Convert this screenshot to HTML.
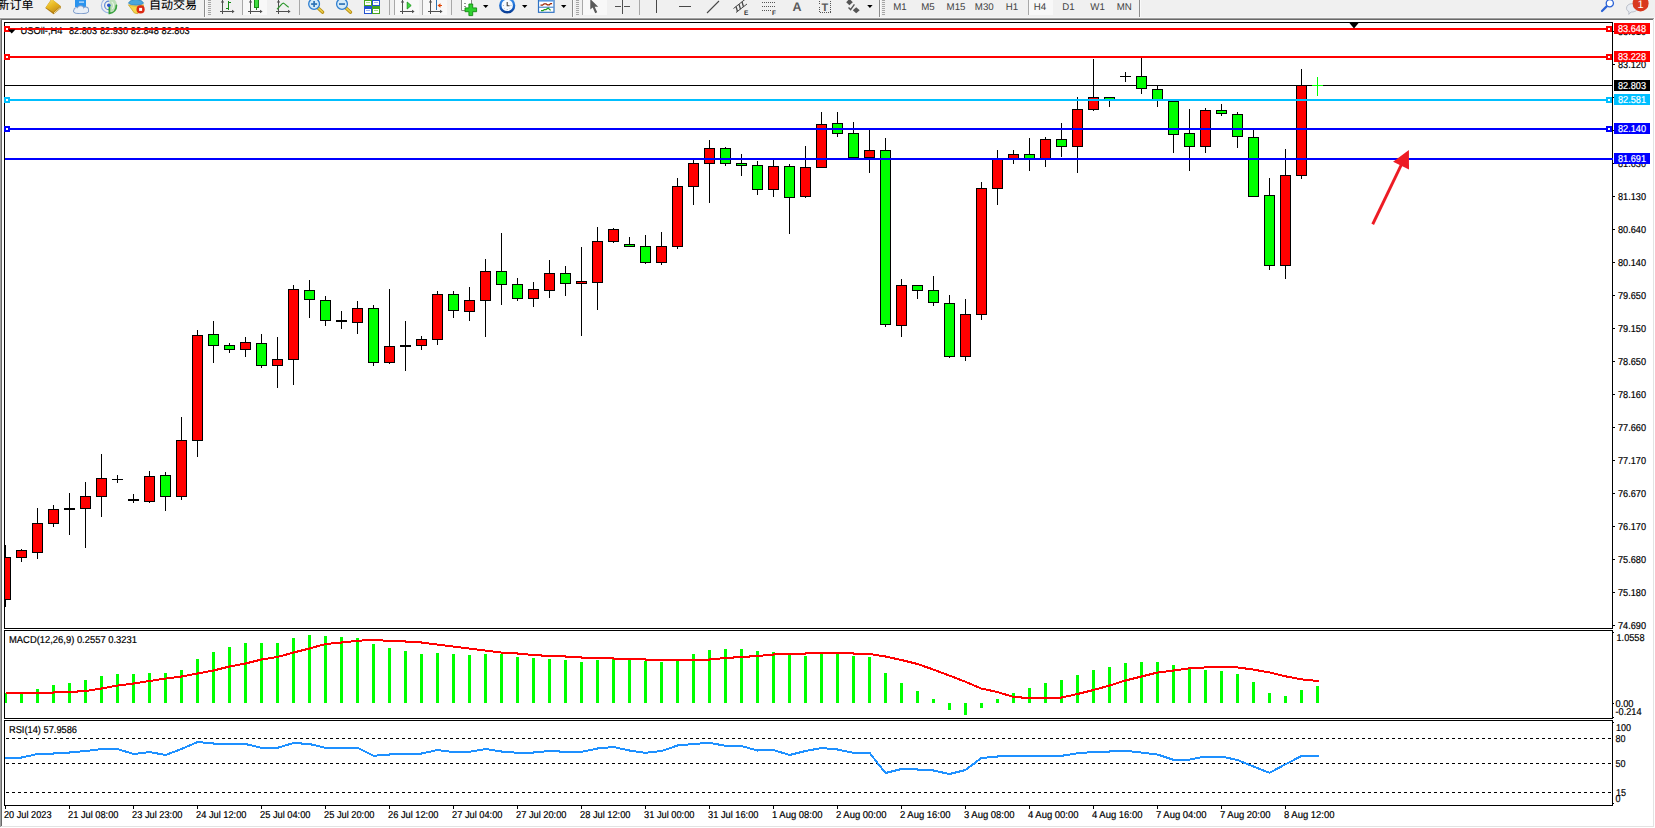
<!DOCTYPE html>
<html><head><meta charset="utf-8"><title>USOil H4</title>
<style>
html,body{margin:0;padding:0;background:#fff;}
body{width:1655px;height:828px;overflow:hidden;position:relative;font-family:"Liberation Sans","Noto Sans CJK SC",sans-serif;}
</style></head><body>
<svg width="1655" height="828" viewBox="0 0 1655 828" style="position:absolute;left:0;top:0" text-rendering="geometricPrecision" font-family="'Liberation Sans', sans-serif">
<g shape-rendering="crispEdges">
<rect x="0" y="17" width="1655" height="811" fill="#fff"/>
<rect x="0" y="18" width="1" height="809" fill="#a0a0a0"/><rect x="1" y="19" width="1" height="807" fill="#696969"/>
<rect x="1653" y="19" width="1" height="808" fill="#e3e3e3"/>
<rect x="1" y="826" width="1653" height="1" fill="#e3e3e3"/>
<rect x="0" y="17" width="1655" height="1" fill="#f5f5f5"/><rect x="0" y="18" width="1654" height="1" fill="#a0a0a0"/><rect x="1" y="19" width="1652" height="1" fill="#696969"/>
<path d="M4.5 628.5V22.5H1612.5V628.5Z" fill="none" stroke="#000"/>
<path d="M4.5 718.5V630.5H1612.5V718.5Z" fill="none" stroke="#000"/>
<path d="M4.5 805.5V720.5H1612.5V805.5Z" fill="none" stroke="#000"/>
</g>
<defs><clipPath id="cm"><rect x="5" y="23" width="1607" height="605"/></clipPath></defs>
<g shape-rendering="crispEdges" clip-path="url(#cm)">
<rect x="5" y="85" width="1607" height="1" fill="#000"/>
<rect x="5" y="545" width="1" height="62" fill="#000"/>
<rect x="0.5" y="557.5" width="10" height="42" fill="#ff0000" stroke="#000"/>
<rect x="21" y="549" width="1" height="13" fill="#000"/>
<rect x="16.5" y="550.5" width="10" height="7" fill="#ff0000" stroke="#000"/>
<rect x="37" y="508" width="1" height="51" fill="#000"/>
<rect x="32.5" y="523.5" width="10" height="29" fill="#ff0000" stroke="#000"/>
<rect x="53" y="505" width="1" height="22" fill="#000"/>
<rect x="48.5" y="509.5" width="10" height="14" fill="#ff0000" stroke="#000"/>
<rect x="69" y="493" width="1" height="42" fill="#000"/>
<rect x="64" y="508" width="11" height="2" fill="#000"/>
<rect x="85" y="482" width="1" height="66" fill="#000"/>
<rect x="80.5" y="496.5" width="10" height="12" fill="#ff0000" stroke="#000"/>
<rect x="101" y="454" width="1" height="63" fill="#000"/>
<rect x="96.5" y="478.5" width="10" height="18" fill="#ff0000" stroke="#000"/>
<rect x="117" y="475" width="1" height="8" fill="#000"/>
<rect x="112" y="479" width="11" height="1" fill="#000"/>
<rect x="133" y="494" width="1" height="9" fill="#000"/>
<rect x="128" y="499" width="11" height="2" fill="#000"/>
<rect x="149" y="471" width="1" height="32" fill="#000"/>
<rect x="144.5" y="476.5" width="10" height="25" fill="#ff0000" stroke="#000"/>
<rect x="165" y="472" width="1" height="39" fill="#000"/>
<rect x="160.5" y="475.5" width="10" height="21" fill="#00ff00" stroke="#000"/>
<rect x="181" y="417" width="1" height="83" fill="#000"/>
<rect x="176.5" y="440.5" width="10" height="56" fill="#ff0000" stroke="#000"/>
<rect x="197" y="330" width="1" height="127" fill="#000"/>
<rect x="192.5" y="335.5" width="10" height="105" fill="#ff0000" stroke="#000"/>
<rect x="213" y="321" width="1" height="42" fill="#000"/>
<rect x="208.5" y="334.5" width="10" height="11" fill="#00ff00" stroke="#000"/>
<rect x="229" y="343" width="1" height="10" fill="#000"/>
<rect x="224.5" y="345.5" width="10" height="4" fill="#00ff00" stroke="#000"/>
<rect x="245" y="337" width="1" height="20" fill="#000"/>
<rect x="240.5" y="342.5" width="10" height="7" fill="#ff0000" stroke="#000"/>
<rect x="261" y="334" width="1" height="34" fill="#000"/>
<rect x="256.5" y="343.5" width="10" height="22" fill="#00ff00" stroke="#000"/>
<rect x="277" y="337" width="1" height="51" fill="#000"/>
<rect x="272.5" y="359.5" width="10" height="6" fill="#ff0000" stroke="#000"/>
<rect x="293" y="285" width="1" height="100" fill="#000"/>
<rect x="288.5" y="289.5" width="10" height="70" fill="#ff0000" stroke="#000"/>
<rect x="309" y="280" width="1" height="38" fill="#000"/>
<rect x="304.5" y="290.5" width="10" height="9" fill="#00ff00" stroke="#000"/>
<rect x="325" y="296" width="1" height="30" fill="#000"/>
<rect x="320.5" y="300.5" width="10" height="20" fill="#00ff00" stroke="#000"/>
<rect x="341" y="311" width="1" height="18" fill="#000"/>
<rect x="336" y="320" width="11" height="2" fill="#000"/>
<rect x="357" y="301" width="1" height="33" fill="#000"/>
<rect x="352.5" y="308.5" width="10" height="14" fill="#ff0000" stroke="#000"/>
<rect x="373" y="305" width="1" height="61" fill="#000"/>
<rect x="368.5" y="308.5" width="10" height="54" fill="#00ff00" stroke="#000"/>
<rect x="389" y="289" width="1" height="75" fill="#000"/>
<rect x="384.5" y="346.5" width="10" height="16" fill="#ff0000" stroke="#000"/>
<rect x="405" y="321" width="1" height="50" fill="#000"/>
<rect x="400" y="345" width="11" height="2" fill="#000"/>
<rect x="421" y="336" width="1" height="14" fill="#000"/>
<rect x="416.5" y="339.5" width="10" height="6" fill="#ff0000" stroke="#000"/>
<rect x="437" y="291" width="1" height="54" fill="#000"/>
<rect x="432.5" y="294.5" width="10" height="45" fill="#ff0000" stroke="#000"/>
<rect x="453" y="291" width="1" height="27" fill="#000"/>
<rect x="448.5" y="294.5" width="10" height="16" fill="#00ff00" stroke="#000"/>
<rect x="469" y="287" width="1" height="34" fill="#000"/>
<rect x="464.5" y="300.5" width="10" height="11" fill="#ff0000" stroke="#000"/>
<rect x="485" y="259" width="1" height="78" fill="#000"/>
<rect x="480.5" y="271.5" width="10" height="29" fill="#ff0000" stroke="#000"/>
<rect x="501" y="233" width="1" height="72" fill="#000"/>
<rect x="496.5" y="271.5" width="10" height="13" fill="#00ff00" stroke="#000"/>
<rect x="517" y="278" width="1" height="23" fill="#000"/>
<rect x="512.5" y="284.5" width="10" height="14" fill="#00ff00" stroke="#000"/>
<rect x="533" y="282" width="1" height="25" fill="#000"/>
<rect x="528.5" y="289.5" width="10" height="9" fill="#ff0000" stroke="#000"/>
<rect x="549" y="260" width="1" height="38" fill="#000"/>
<rect x="544.5" y="273.5" width="10" height="17" fill="#ff0000" stroke="#000"/>
<rect x="565" y="266" width="1" height="30" fill="#000"/>
<rect x="560.5" y="273.5" width="10" height="10" fill="#00ff00" stroke="#000"/>
<rect x="581" y="247" width="1" height="89" fill="#000"/>
<rect x="576.5" y="281.5" width="10" height="2" fill="#ff0000" stroke="#000"/>
<rect x="597" y="227" width="1" height="83" fill="#000"/>
<rect x="592.5" y="241.5" width="10" height="41" fill="#ff0000" stroke="#000"/>
<rect x="613" y="228" width="1" height="15" fill="#000"/>
<rect x="608.5" y="229.5" width="10" height="12" fill="#ff0000" stroke="#000"/>
<rect x="629" y="237" width="1" height="10" fill="#000"/>
<rect x="624.5" y="244.5" width="10" height="2" fill="#00ff00" stroke="#000"/>
<rect x="645" y="235" width="1" height="29" fill="#000"/>
<rect x="640.5" y="246.5" width="10" height="16" fill="#00ff00" stroke="#000"/>
<rect x="661" y="232" width="1" height="33" fill="#000"/>
<rect x="656.5" y="246.5" width="10" height="16" fill="#ff0000" stroke="#000"/>
<rect x="677" y="178" width="1" height="71" fill="#000"/>
<rect x="672.5" y="186.5" width="10" height="60" fill="#ff0000" stroke="#000"/>
<rect x="693" y="160" width="1" height="45" fill="#000"/>
<rect x="688.5" y="163.5" width="10" height="23" fill="#ff0000" stroke="#000"/>
<rect x="709" y="140" width="1" height="63" fill="#000"/>
<rect x="704.5" y="148.5" width="10" height="15" fill="#ff0000" stroke="#000"/>
<rect x="725" y="147" width="1" height="19" fill="#000"/>
<rect x="720.5" y="148.5" width="10" height="15" fill="#00ff00" stroke="#000"/>
<rect x="741" y="154" width="1" height="22" fill="#000"/>
<rect x="736.5" y="163.5" width="10" height="2" fill="#00ff00" stroke="#000"/>
<rect x="757" y="161" width="1" height="34" fill="#000"/>
<rect x="752.5" y="165.5" width="10" height="24" fill="#00ff00" stroke="#000"/>
<rect x="773" y="160" width="1" height="37" fill="#000"/>
<rect x="768.5" y="166.5" width="10" height="23" fill="#ff0000" stroke="#000"/>
<rect x="789" y="164" width="1" height="70" fill="#000"/>
<rect x="784.5" y="166.5" width="10" height="31" fill="#00ff00" stroke="#000"/>
<rect x="805" y="146" width="1" height="52" fill="#000"/>
<rect x="800.5" y="167.5" width="10" height="29" fill="#ff0000" stroke="#000"/>
<rect x="821" y="112" width="1" height="56" fill="#000"/>
<rect x="816.5" y="124.5" width="10" height="43" fill="#ff0000" stroke="#000"/>
<rect x="837" y="112" width="1" height="25" fill="#000"/>
<rect x="832.5" y="123.5" width="10" height="10" fill="#00ff00" stroke="#000"/>
<rect x="853" y="122" width="1" height="36" fill="#000"/>
<rect x="848.5" y="133.5" width="10" height="24" fill="#00ff00" stroke="#000"/>
<rect x="869" y="130" width="1" height="43" fill="#000"/>
<rect x="864.5" y="150.5" width="10" height="7" fill="#ff0000" stroke="#000"/>
<rect x="885" y="138" width="1" height="189" fill="#000"/>
<rect x="880.5" y="150.5" width="10" height="174" fill="#00ff00" stroke="#000"/>
<rect x="901" y="279" width="1" height="58" fill="#000"/>
<rect x="896.5" y="285.5" width="10" height="40" fill="#ff0000" stroke="#000"/>
<rect x="917" y="285" width="1" height="14" fill="#000"/>
<rect x="912.5" y="285.5" width="10" height="5" fill="#00ff00" stroke="#000"/>
<rect x="933" y="276" width="1" height="30" fill="#000"/>
<rect x="928.5" y="290.5" width="10" height="12" fill="#00ff00" stroke="#000"/>
<rect x="949" y="295" width="1" height="63" fill="#000"/>
<rect x="944.5" y="303.5" width="10" height="53" fill="#00ff00" stroke="#000"/>
<rect x="965" y="299" width="1" height="62" fill="#000"/>
<rect x="960.5" y="314.5" width="10" height="42" fill="#ff0000" stroke="#000"/>
<rect x="981" y="182" width="1" height="138" fill="#000"/>
<rect x="976.5" y="188.5" width="10" height="126" fill="#ff0000" stroke="#000"/>
<rect x="997" y="150" width="1" height="55" fill="#000"/>
<rect x="992.5" y="159.5" width="10" height="29" fill="#ff0000" stroke="#000"/>
<rect x="1013" y="150" width="1" height="14" fill="#000"/>
<rect x="1008.5" y="154.5" width="10" height="4" fill="#ff0000" stroke="#000"/>
<rect x="1029" y="138" width="1" height="33" fill="#000"/>
<rect x="1024.5" y="154.5" width="10" height="4" fill="#00ff00" stroke="#000"/>
<rect x="1045" y="137" width="1" height="30" fill="#000"/>
<rect x="1040.5" y="139.5" width="10" height="19" fill="#ff0000" stroke="#000"/>
<rect x="1061" y="123" width="1" height="34" fill="#000"/>
<rect x="1056.5" y="139.5" width="10" height="7" fill="#00ff00" stroke="#000"/>
<rect x="1077" y="97" width="1" height="76" fill="#000"/>
<rect x="1072.5" y="109.5" width="10" height="37" fill="#ff0000" stroke="#000"/>
<rect x="1093" y="59" width="1" height="52" fill="#000"/>
<rect x="1088.5" y="97.5" width="10" height="12" fill="#ff0000" stroke="#000"/>
<rect x="1109" y="97" width="1" height="10" fill="#000"/>
<rect x="1104.5" y="97.5" width="10" height="2" fill="#00ff00" stroke="#000"/>
<rect x="1125" y="72" width="1" height="10" fill="#000"/>
<rect x="1120" y="76" width="11" height="1" fill="#000"/>
<rect x="1141" y="58" width="1" height="36" fill="#000"/>
<rect x="1136.5" y="76.5" width="10" height="12" fill="#00ff00" stroke="#000"/>
<rect x="1157" y="86" width="1" height="21" fill="#000"/>
<rect x="1152.5" y="89.5" width="10" height="11" fill="#00ff00" stroke="#000"/>
<rect x="1173" y="101" width="1" height="52" fill="#000"/>
<rect x="1168.5" y="101.5" width="10" height="33" fill="#00ff00" stroke="#000"/>
<rect x="1189" y="109" width="1" height="62" fill="#000"/>
<rect x="1184.5" y="133.5" width="10" height="13" fill="#00ff00" stroke="#000"/>
<rect x="1205" y="108" width="1" height="45" fill="#000"/>
<rect x="1200.5" y="110.5" width="10" height="36" fill="#ff0000" stroke="#000"/>
<rect x="1221" y="104" width="1" height="12" fill="#000"/>
<rect x="1216.5" y="110.5" width="10" height="3" fill="#00ff00" stroke="#000"/>
<rect x="1237" y="112" width="1" height="36" fill="#000"/>
<rect x="1232.5" y="114.5" width="10" height="22" fill="#00ff00" stroke="#000"/>
<rect x="1253" y="130" width="1" height="67" fill="#000"/>
<rect x="1248.5" y="137.5" width="10" height="59" fill="#00ff00" stroke="#000"/>
<rect x="1269" y="178" width="1" height="92" fill="#000"/>
<rect x="1264.5" y="195.5" width="10" height="70" fill="#00ff00" stroke="#000"/>
<rect x="1285" y="149" width="1" height="130" fill="#000"/>
<rect x="1280.5" y="175.5" width="10" height="90" fill="#ff0000" stroke="#000"/>
<rect x="1301" y="69" width="1" height="110" fill="#000"/>
<rect x="1296.5" y="85.5" width="10" height="90" fill="#ff0000" stroke="#000"/>
<rect x="1317" y="77" width="1" height="19" fill="#00ff00"/><rect x="1312" y="85" width="11" height="1" fill="#00ff00"/>
</g>
<g font-size="10px" fill="#000" stroke="#000" stroke-width="0.2">
<text x="20.5" y="34" textLength="42" lengthAdjust="spacingAndGlyphs">USOil-,H4</text>
<text x="69" y="34" textLength="28" lengthAdjust="spacingAndGlyphs">82.803</text>
<text x="100" y="34" textLength="28" lengthAdjust="spacingAndGlyphs">82.930</text>
<text x="130.8" y="34" textLength="28" lengthAdjust="spacingAndGlyphs">82.848</text>
<text x="161.6" y="34" textLength="28" lengthAdjust="spacingAndGlyphs">82.803</text>
</g>
<g shape-rendering="crispEdges">
<rect x="5" y="28" width="1607" height="2" fill="#ff0000"/>
<rect x="4" y="26" width="6" height="6" fill="#ff0000"/><rect x="6" y="28" width="2" height="2" fill="#fff"/>
<rect x="1606" y="26" width="6" height="6" fill="#ff0000"/><rect x="1608" y="28" width="2" height="2" fill="#fff"/>
<rect x="5" y="56" width="1607" height="2" fill="#ff0000"/>
<rect x="4" y="54" width="6" height="6" fill="#ff0000"/><rect x="6" y="56" width="2" height="2" fill="#fff"/>
<rect x="1606" y="54" width="6" height="6" fill="#ff0000"/><rect x="1608" y="56" width="2" height="2" fill="#fff"/>
<rect x="5" y="99" width="1607" height="2" fill="#00bfff"/>
<rect x="4" y="97" width="6" height="6" fill="#00bfff"/><rect x="6" y="99" width="2" height="2" fill="#fff"/>
<rect x="1606" y="97" width="6" height="6" fill="#00bfff"/><rect x="1608" y="99" width="2" height="2" fill="#fff"/>
<rect x="5" y="128" width="1607" height="2" fill="#0000ff"/>
<rect x="4" y="126" width="6" height="6" fill="#0000ff"/><rect x="6" y="128" width="2" height="2" fill="#fff"/>
<rect x="1606" y="126" width="6" height="6" fill="#0000ff"/><rect x="1608" y="128" width="2" height="2" fill="#fff"/>
<rect x="5" y="158" width="1608" height="2" fill="#0000ff"/>
</g>
<path d="M1349 22.5H1359L1354 28.5Z" fill="#000"/>
<path d="M8 29.5H15.5L11.7 33.5Z" fill="#000"/>
<g fill="#ed1c24" stroke="none"><path d="M1371.4 223.6L1374 224.9L1402.7 165.3L1400.1 164Z"/><path d="M1408.9 149.9L1393.1 161.8L1409 169.4Z"/></g>
<g shape-rendering="crispEdges" fill="#000">
<rect x="1613" y="31" width="2" height="1"/>
<rect x="1613" y="64" width="2" height="1"/>
<rect x="1613" y="97" width="2" height="1"/>
<rect x="1613" y="130" width="2" height="1"/>
<rect x="1613" y="163" width="2" height="1"/>
<rect x="1613" y="196" width="2" height="1"/>
<rect x="1613" y="229" width="2" height="1"/>
<rect x="1613" y="262" width="2" height="1"/>
<rect x="1613" y="295" width="2" height="1"/>
<rect x="1613" y="328" width="2" height="1"/>
<rect x="1613" y="361" width="2" height="1"/>
<rect x="1613" y="394" width="2" height="1"/>
<rect x="1613" y="427" width="2" height="1"/>
<rect x="1613" y="460" width="2" height="1"/>
<rect x="1613" y="493" width="2" height="1"/>
<rect x="1613" y="526" width="2" height="1"/>
<rect x="1613" y="559" width="2" height="1"/>
<rect x="1613" y="592" width="2" height="1"/>
<rect x="1613" y="625" width="2" height="1"/>
</g>
<g font-size="10px" fill="#000" stroke="#000" stroke-width="0.2">
<text x="1618" y="35" textLength="28" lengthAdjust="spacingAndGlyphs">83.610</text>
<text x="1618" y="68" textLength="28" lengthAdjust="spacingAndGlyphs">83.120</text>
<text x="1618" y="101" textLength="28" lengthAdjust="spacingAndGlyphs">82.620</text>
<text x="1618" y="133" textLength="28" lengthAdjust="spacingAndGlyphs">82.120</text>
<text x="1618" y="167" textLength="28" lengthAdjust="spacingAndGlyphs">81.630</text>
<text x="1618" y="200" textLength="28" lengthAdjust="spacingAndGlyphs">81.130</text>
<text x="1618" y="233" textLength="28" lengthAdjust="spacingAndGlyphs">80.640</text>
<text x="1618" y="266" textLength="28" lengthAdjust="spacingAndGlyphs">80.140</text>
<text x="1618" y="299" textLength="28" lengthAdjust="spacingAndGlyphs">79.650</text>
<text x="1618" y="332" textLength="28" lengthAdjust="spacingAndGlyphs">79.150</text>
<text x="1618" y="365" textLength="28" lengthAdjust="spacingAndGlyphs">78.650</text>
<text x="1618" y="398" textLength="28" lengthAdjust="spacingAndGlyphs">78.160</text>
<text x="1618" y="431" textLength="28" lengthAdjust="spacingAndGlyphs">77.660</text>
<text x="1618" y="464" textLength="28" lengthAdjust="spacingAndGlyphs">77.170</text>
<text x="1618" y="497" textLength="28" lengthAdjust="spacingAndGlyphs">76.670</text>
<text x="1618" y="530" textLength="28" lengthAdjust="spacingAndGlyphs">76.170</text>
<text x="1618" y="563" textLength="28" lengthAdjust="spacingAndGlyphs">75.680</text>
<text x="1618" y="596" textLength="28" lengthAdjust="spacingAndGlyphs">75.180</text>
<text x="1618" y="629" textLength="28" lengthAdjust="spacingAndGlyphs">74.690</text>
</g>
<rect x="1614" y="23" width="36" height="11" fill="#ff0000" shape-rendering="crispEdges"/><text x="1618" y="32" font-size="10px" fill="#fff" stroke="#fff" stroke-width="0.2" textLength="28" lengthAdjust="spacingAndGlyphs">83.648</text>
<rect x="1614" y="51" width="36" height="11" fill="#ff0000" shape-rendering="crispEdges"/><text x="1618" y="60" font-size="10px" fill="#fff" stroke="#fff" stroke-width="0.2" textLength="28" lengthAdjust="spacingAndGlyphs">83.228</text>
<rect x="1614" y="80" width="36" height="11" fill="#000" shape-rendering="crispEdges"/><text x="1618" y="89" font-size="10px" fill="#fff" stroke="#fff" stroke-width="0.2" textLength="28" lengthAdjust="spacingAndGlyphs">82.803</text>
<rect x="1614" y="94" width="36" height="11" fill="#00bfff" shape-rendering="crispEdges"/><text x="1618" y="103" font-size="10px" fill="#fff" stroke="#fff" stroke-width="0.2" textLength="28" lengthAdjust="spacingAndGlyphs">82.581</text>
<rect x="1614" y="123" width="36" height="11" fill="#0000ff" shape-rendering="crispEdges"/><text x="1618" y="132" font-size="10px" fill="#fff" stroke="#fff" stroke-width="0.2" textLength="28" lengthAdjust="spacingAndGlyphs">82.140</text>
<rect x="1614" y="153" width="36" height="11" fill="#0000ff" shape-rendering="crispEdges"/><text x="1618" y="162" font-size="10px" fill="#fff" stroke="#fff" stroke-width="0.2" textLength="28" lengthAdjust="spacingAndGlyphs">81.691</text>
<g shape-rendering="crispEdges" fill="#00ff00">
<rect x="5" y="693" width="2" height="10"/>
<rect x="20" y="694" width="3" height="9"/>
<rect x="36" y="689" width="3" height="14"/>
<rect x="52" y="685" width="3" height="18"/>
<rect x="68" y="683" width="3" height="20"/>
<rect x="84" y="680" width="3" height="23"/>
<rect x="100" y="676" width="3" height="27"/>
<rect x="116" y="674" width="3" height="29"/>
<rect x="132" y="674" width="3" height="29"/>
<rect x="148" y="673" width="3" height="30"/>
<rect x="164" y="673" width="3" height="30"/>
<rect x="180" y="670" width="3" height="33"/>
<rect x="196" y="659" width="3" height="44"/>
<rect x="212" y="652" width="3" height="51"/>
<rect x="228" y="647" width="3" height="56"/>
<rect x="244" y="643" width="3" height="60"/>
<rect x="260" y="643" width="3" height="60"/>
<rect x="276" y="643" width="3" height="60"/>
<rect x="292" y="638" width="3" height="65"/>
<rect x="308" y="635" width="3" height="68"/>
<rect x="324" y="636" width="3" height="67"/>
<rect x="340" y="637" width="3" height="66"/>
<rect x="356" y="638" width="3" height="65"/>
<rect x="372" y="644" width="3" height="59"/>
<rect x="388" y="648" width="3" height="55"/>
<rect x="404" y="651" width="3" height="52"/>
<rect x="420" y="654" width="3" height="49"/>
<rect x="436" y="653" width="3" height="50"/>
<rect x="452" y="654" width="3" height="49"/>
<rect x="468" y="655" width="3" height="48"/>
<rect x="484" y="654" width="3" height="49"/>
<rect x="500" y="654" width="3" height="49"/>
<rect x="516" y="657" width="3" height="46"/>
<rect x="532" y="658" width="3" height="45"/>
<rect x="548" y="659" width="3" height="44"/>
<rect x="564" y="660" width="3" height="43"/>
<rect x="580" y="662" width="3" height="41"/>
<rect x="596" y="660" width="3" height="43"/>
<rect x="612" y="659" width="3" height="44"/>
<rect x="628" y="660" width="3" height="43"/>
<rect x="644" y="661" width="3" height="42"/>
<rect x="660" y="662" width="3" height="41"/>
<rect x="676" y="661" width="3" height="42"/>
<rect x="692" y="654" width="3" height="49"/>
<rect x="708" y="650" width="3" height="53"/>
<rect x="724" y="649" width="3" height="54"/>
<rect x="740" y="649" width="3" height="54"/>
<rect x="756" y="651" width="3" height="52"/>
<rect x="772" y="652" width="3" height="51"/>
<rect x="788" y="655" width="3" height="48"/>
<rect x="804" y="656" width="3" height="47"/>
<rect x="820" y="654" width="3" height="49"/>
<rect x="836" y="653" width="3" height="50"/>
<rect x="852" y="656" width="3" height="47"/>
<rect x="868" y="657" width="3" height="46"/>
<rect x="884" y="673" width="3" height="30"/>
<rect x="900" y="683" width="3" height="20"/>
<rect x="916" y="691" width="3" height="12"/>
<rect x="932" y="699" width="3" height="4"/>
<rect x="948" y="703" width="3" height="7"/>
<rect x="964" y="703" width="3" height="12"/>
<rect x="980" y="703" width="3" height="5"/>
<rect x="996" y="699" width="3" height="4"/>
<rect x="1012" y="693" width="3" height="10"/>
<rect x="1028" y="688" width="3" height="15"/>
<rect x="1044" y="683" width="3" height="20"/>
<rect x="1060" y="680" width="3" height="23"/>
<rect x="1076" y="675" width="3" height="28"/>
<rect x="1092" y="670" width="3" height="33"/>
<rect x="1108" y="667" width="3" height="36"/>
<rect x="1124" y="663" width="3" height="40"/>
<rect x="1140" y="662" width="3" height="41"/>
<rect x="1156" y="662" width="3" height="41"/>
<rect x="1172" y="665" width="3" height="38"/>
<rect x="1188" y="669" width="3" height="34"/>
<rect x="1204" y="670" width="3" height="33"/>
<rect x="1220" y="671" width="3" height="32"/>
<rect x="1236" y="674" width="3" height="29"/>
<rect x="1252" y="682" width="3" height="21"/>
<rect x="1268" y="693" width="3" height="10"/>
<rect x="1284" y="696" width="3" height="7"/>
<rect x="1300" y="690" width="3" height="13"/>
<rect x="1316" y="686" width="3" height="17"/>
</g>
<polyline points="5.5,693.01 21.5,693.01 37.5,693.01 53.5,692.51 69.5,692.01 85.5,691.01 101.5,688.51 117.5,685.51 133.5,683.51 149.5,681.01 165.5,678.51 181.5,676.51 197.5,673.51 213.5,670.51 229.5,666.51 245.5,663.51 261.5,659.51 277.5,657.01 293.5,652.51 309.5,648.51 325.5,644.01 341.5,642.51 357.5,640.81 373.5,639.81 389.5,641.01 405.5,641.51 421.5,642.51 437.5,644.51 453.5,646.51 469.5,648.51 485.5,650.51 501.5,652.51 517.5,653.51 533.5,655.01 549.5,656.01 565.5,656.51 581.5,657.51 597.5,658.01 613.5,658.51 629.5,659.01 645.5,659.51 661.5,659.81 677.5,660.01 693.5,660.01 709.5,659.51 725.5,658.01 741.5,657.01 757.5,656.01 773.5,654.51 789.5,654.01 805.5,653.51 821.5,652.51 837.5,652.51 853.5,653.51 869.5,654.01 885.5,656.51 901.5,660.01 917.5,664.01 933.5,669.61 949.5,675.61 965.5,681.81 981.5,688.61 997.5,692.01 1013.5,697.01 1029.5,698.01 1045.5,698.01 1061.5,697.51 1077.5,694.01 1093.5,690.01 1109.5,685.51 1125.5,680.51 1141.5,676.51 1157.5,672.51 1173.5,670.51 1189.5,668.31 1205.5,667.41 1221.5,667.01 1237.5,667.41 1253.5,669.61 1269.5,672.41 1285.5,676.31 1301.5,679.31 1317.5,681.01 1318.5,681.01" fill="none" stroke="#ff0000" stroke-width="2" stroke-linejoin="round" shape-rendering="crispEdges"/>
<g font-size="10px" fill="#000" stroke="#000" stroke-width="0.2">
<text x="1616.5" y="641" textLength="28" lengthAdjust="spacingAndGlyphs">1.0558</text>
<text x="1615.5" y="707" textLength="18" lengthAdjust="spacingAndGlyphs">0.00</text>
<text x="1615.5" y="715" textLength="26" lengthAdjust="spacingAndGlyphs">-0.214</text>
<text x="1616" y="731" textLength="15" lengthAdjust="spacingAndGlyphs">100</text>
<text x="1615.5" y="742" textLength="10" lengthAdjust="spacingAndGlyphs">80</text>
<text x="1615.5" y="767" textLength="10" lengthAdjust="spacingAndGlyphs">50</text>
<text x="1616" y="796" textLength="10" lengthAdjust="spacingAndGlyphs">15</text>
<text x="1615.5" y="802" textLength="5" lengthAdjust="spacingAndGlyphs">0</text>
</g>
<g shape-rendering="crispEdges" fill="#000">
<rect x="1613" y="632" width="1" height="1"/>
<rect x="1613" y="703" width="1" height="1"/>
<rect x="1613" y="717" width="1" height="1"/>
<rect x="1613" y="722" width="1" height="1"/>
<rect x="1613" y="803" width="1" height="1"/>
</g>
<g shape-rendering="crispEdges" stroke="#000" stroke-dasharray="3 3">
<path d="M6 738.5H1612"/>
<path d="M6 763.5H1612"/>
<path d="M6 792.5H1612"/>
</g>
<polyline points="5.5,758.01 21.5,757.51 37.5,754.01 53.5,753.51 69.5,752.51 85.5,751.01 101.5,749.01 117.5,749.01 133.5,754.01 149.5,752.01 165.5,755.01 181.5,749.01 197.5,742.01 213.5,743.51 229.5,744.01 245.5,744.01 261.5,747.81 277.5,747.81 293.5,743.01 309.5,744.01 325.5,747.81 341.5,747.81 357.5,747.81 373.5,755.81 389.5,754.51 405.5,754.01 421.5,753.51 437.5,750.01 453.5,752.01 469.5,751.81 485.5,749.01 501.5,751.51 517.5,752.81 533.5,752.51 549.5,751.01 565.5,751.81 581.5,751.81 597.5,748.51 613.5,747.01 629.5,750.51 645.5,752.81 661.5,751.01 677.5,745.51 693.5,744.01 709.5,742.81 725.5,745.81 741.5,746.01 757.5,750.51 773.5,750.01 789.5,755.01 805.5,751.01 821.5,748.01 837.5,749.51 853.5,752.81 869.5,752.81 885.5,773.01 901.5,769.01 917.5,769.51 933.5,770.51 949.5,774.01 965.5,770.01 981.5,758.01 997.5,756.51 1013.5,756.01 1029.5,756.01 1045.5,756.01 1061.5,755.81 1077.5,753.31 1093.5,752.01 1109.5,751.51 1125.5,750.81 1141.5,752.51 1157.5,754.51 1173.5,759.81 1189.5,759.61 1205.5,756.51 1221.5,756.51 1237.5,760.01 1253.5,766.51 1269.5,772.81 1285.5,764.31 1301.5,756.01 1317.5,755.91 1318.5,755.91" fill="none" stroke="#1e90ff" stroke-width="2" stroke-linejoin="round" shape-rendering="crispEdges"/>
<g font-size="10px" fill="#000" stroke="#000" stroke-width="0.2">
<text x="9" y="642.7" textLength="128" lengthAdjust="spacingAndGlyphs">MACD(12,26,9) 0.2557 0.3231</text>
<text x="9" y="733" textLength="68" lengthAdjust="spacingAndGlyphs">RSI(14) 57.9586</text>
</g>
<g shape-rendering="crispEdges" fill="#000">
<rect x="5" y="806" width="1" height="3"/>
<rect x="69" y="806" width="1" height="3"/>
<rect x="133" y="806" width="1" height="3"/>
<rect x="197" y="806" width="1" height="3"/>
<rect x="261" y="806" width="1" height="3"/>
<rect x="325" y="806" width="1" height="3"/>
<rect x="389" y="806" width="1" height="3"/>
<rect x="453" y="806" width="1" height="3"/>
<rect x="517" y="806" width="1" height="3"/>
<rect x="581" y="806" width="1" height="3"/>
<rect x="645" y="806" width="1" height="3"/>
<rect x="709" y="806" width="1" height="3"/>
<rect x="773" y="806" width="1" height="3"/>
<rect x="837" y="806" width="1" height="3"/>
<rect x="901" y="806" width="1" height="3"/>
<rect x="965" y="806" width="1" height="3"/>
<rect x="1029" y="806" width="1" height="3"/>
<rect x="1093" y="806" width="1" height="3"/>
<rect x="1157" y="806" width="1" height="3"/>
<rect x="1221" y="806" width="1" height="3"/>
<rect x="1285" y="806" width="1" height="3"/>
</g><g font-size="10px" fill="#000" stroke="#000" stroke-width="0.2">
<text x="4" y="818" textLength="47.5" lengthAdjust="spacingAndGlyphs">20 Jul 2023</text>
<text x="68" y="818" textLength="50.5" lengthAdjust="spacingAndGlyphs">21 Jul 08:00</text>
<text x="132" y="818" textLength="50.5" lengthAdjust="spacingAndGlyphs">23 Jul 23:00</text>
<text x="196" y="818" textLength="50.5" lengthAdjust="spacingAndGlyphs">24 Jul 12:00</text>
<text x="260" y="818" textLength="50.5" lengthAdjust="spacingAndGlyphs">25 Jul 04:00</text>
<text x="324" y="818" textLength="50.5" lengthAdjust="spacingAndGlyphs">25 Jul 20:00</text>
<text x="388" y="818" textLength="50.5" lengthAdjust="spacingAndGlyphs">26 Jul 12:00</text>
<text x="452" y="818" textLength="50.5" lengthAdjust="spacingAndGlyphs">27 Jul 04:00</text>
<text x="516" y="818" textLength="50.5" lengthAdjust="spacingAndGlyphs">27 Jul 20:00</text>
<text x="580" y="818" textLength="50.5" lengthAdjust="spacingAndGlyphs">28 Jul 12:00</text>
<text x="644" y="818" textLength="50.5" lengthAdjust="spacingAndGlyphs">31 Jul 00:00</text>
<text x="708" y="818" textLength="50.5" lengthAdjust="spacingAndGlyphs">31 Jul 16:00</text>
<text x="772" y="818" textLength="50.5" lengthAdjust="spacingAndGlyphs">1 Aug 08:00</text>
<text x="836" y="818" textLength="50.5" lengthAdjust="spacingAndGlyphs">2 Aug 00:00</text>
<text x="900" y="818" textLength="50.5" lengthAdjust="spacingAndGlyphs">2 Aug 16:00</text>
<text x="964" y="818" textLength="50.5" lengthAdjust="spacingAndGlyphs">3 Aug 08:00</text>
<text x="1028" y="818" textLength="50.5" lengthAdjust="spacingAndGlyphs">4 Aug 00:00</text>
<text x="1092" y="818" textLength="50.5" lengthAdjust="spacingAndGlyphs">4 Aug 16:00</text>
<text x="1156" y="818" textLength="50.5" lengthAdjust="spacingAndGlyphs">7 Aug 04:00</text>
<text x="1220" y="818" textLength="50.5" lengthAdjust="spacingAndGlyphs">7 Aug 20:00</text>
<text x="1284" y="818" textLength="50.5" lengthAdjust="spacingAndGlyphs">8 Aug 12:00</text>
</g>
<g id="toolbar">
<rect x="0" y="0" width="1655" height="17" fill="#f0f0f0"/>
<rect x="243" y="0" width="24" height="15" fill="#f8f8f8"/>
<rect x="395" y="0" width="24" height="15" fill="#f8f8f8"/>
<rect x="423" y="0" width="24" height="15" fill="#f8f8f8"/>
<rect x="583" y="0" width="24" height="15" fill="#f8f8f8"/>
<rect x="1029" y="0" width="24" height="15" fill="#f8f8f8"/>
<g shape-rendering="crispEdges">
<rect x="204" y="0" width="1" height="17" fill="#8c8c8c"/><rect x="205" y="0" width="1" height="17" fill="#fafafa"/>
<rect x="572" y="0" width="1" height="17" fill="#8c8c8c"/><rect x="573" y="0" width="1" height="17" fill="#fafafa"/>
<rect x="879" y="0" width="1" height="17" fill="#8c8c8c"/><rect x="880" y="0" width="1" height="17" fill="#fafafa"/>
<rect x="1139" y="0" width="1" height="17" fill="#8c8c8c"/><rect x="1140" y="0" width="1" height="17" fill="#fafafa"/>
<rect x="242" y="0" width="1" height="15" fill="#a8a8a8"/>
<rect x="299" y="0" width="1" height="15" fill="#a8a8a8"/>
<rect x="389" y="0" width="1" height="15" fill="#a8a8a8"/>
<rect x="394" y="0" width="1" height="15" fill="#a8a8a8"/>
<rect x="422" y="0" width="1" height="15" fill="#a8a8a8"/>
<rect x="451" y="0" width="1" height="15" fill="#a8a8a8"/>
<rect x="582" y="0" width="1" height="15" fill="#a8a8a8"/>
<rect x="639" y="0" width="1" height="15" fill="#a8a8a8"/>
<rect x="1028" y="0" width="1" height="15" fill="#a8a8a8"/>
<rect x="208" y="0" width="3" height="1" fill="#a6a6a6"/>
<rect x="208" y="2" width="3" height="1" fill="#a6a6a6"/>
<rect x="208" y="4" width="3" height="1" fill="#a6a6a6"/>
<rect x="208" y="6" width="3" height="1" fill="#a6a6a6"/>
<rect x="208" y="8" width="3" height="1" fill="#a6a6a6"/>
<rect x="208" y="10" width="3" height="1" fill="#a6a6a6"/>
<rect x="208" y="12" width="3" height="1" fill="#a6a6a6"/>
<rect x="208" y="14" width="3" height="1" fill="#a6a6a6"/>
<rect x="576" y="0" width="3" height="1" fill="#a6a6a6"/>
<rect x="576" y="2" width="3" height="1" fill="#a6a6a6"/>
<rect x="576" y="4" width="3" height="1" fill="#a6a6a6"/>
<rect x="576" y="6" width="3" height="1" fill="#a6a6a6"/>
<rect x="576" y="8" width="3" height="1" fill="#a6a6a6"/>
<rect x="576" y="10" width="3" height="1" fill="#a6a6a6"/>
<rect x="576" y="12" width="3" height="1" fill="#a6a6a6"/>
<rect x="576" y="14" width="3" height="1" fill="#a6a6a6"/>
<rect x="882" y="0" width="3" height="1" fill="#a6a6a6"/>
<rect x="882" y="2" width="3" height="1" fill="#a6a6a6"/>
<rect x="882" y="4" width="3" height="1" fill="#a6a6a6"/>
<rect x="882" y="6" width="3" height="1" fill="#a6a6a6"/>
<rect x="882" y="8" width="3" height="1" fill="#a6a6a6"/>
<rect x="882" y="10" width="3" height="1" fill="#a6a6a6"/>
<rect x="882" y="12" width="3" height="1" fill="#a6a6a6"/>
<rect x="882" y="14" width="3" height="1" fill="#a6a6a6"/>
</g>
<g font-family="'Liberation Sans','Noto Sans CJK SC',sans-serif" font-size="12px" fill="#000" stroke="#000" stroke-width="0.1">
<text x="-2.6" y="8.8">新订单</text><text x="148.9" y="8.6">自动交易</text></g>
<defs><linearGradient id="gb" x1="0" y1="0" x2="0.6" y2="1"><stop offset="0" stop-color="#fbe46a"/><stop offset=".55" stop-color="#e8b822"/><stop offset="1" stop-color="#c8921a"/></linearGradient></defs>
<path d="M45.3 8L51.5 -1L60.8 6.2L61 8L53.6 14.2Z" fill="#b07c10"/><path d="M45.6 7.6L51.8 -1L60.5 6L53.4 12.2Z" fill="url(#gb)"/><path d="M54 13L60.4 7.4" stroke="#f0dc9a" stroke-width="1"/>
<rect x="75" y="-2" width="11" height="9" fill="#2a93ee"/><rect x="79" y="1.5" width="5" height="1.2" fill="#cfe6fb"/>
<g fill="#7f9dcc"><ellipse cx="81" cy="11.2" rx="8" ry="2.9"/><circle cx="76.6" cy="10.4" r="3.2"/><circle cx="80.6" cy="9" r="3.7"/><circle cx="85.6" cy="10" r="3.4"/></g><g fill="#e9eff7"><ellipse cx="81" cy="11.2" rx="7.1" ry="2"/><circle cx="76.6" cy="10.4" r="2.3"/><circle cx="80.6" cy="9" r="2.8"/><circle cx="85.6" cy="10" r="2.5"/></g>
<path d="M109.6 -2.2A7.6 7.6 0 0 1 109.6 13Z" fill="#a9d8a4" opacity=".75"/><g fill="none" stroke-linecap="round"><path d="M108.8 1.2A4.2 4.2 0 0 0 108.8 9.6" stroke="#5f86d6" stroke-width="1.2"/><path d="M108.8 -2A7.4 7.4 0 0 0 108.8 12.8" stroke="#9db6e6" stroke-width="1.2"/><path d="M112 2.2A4.4 4.4 0 0 1 112.6 8.4" stroke="#e8f4e8" stroke-width="1.1"/><path d="M109.4 6v7.4c4.4 -0.4 7 -3.8 7 -8" stroke="#36a03c" stroke-width="1.7"/></g><circle cx="108.8" cy="5.3" r="1.8" fill="#2a55c8"/>
<path d="M128.5 3.2c2 -5 13 -5 15 0c-3 2.6 -12 2.6 -15 0Z" fill="#4aa6dc" stroke="#2b7fb8" stroke-width=".8"/><path d="M128.4 4.8c4 1.6 11 1.6 15 0v2.6l-5.6 6.2l-3.4 -.6Z" fill="#f3d54a" stroke="#caa326" stroke-width=".8"/><circle cx="140.6" cy="9.4" r="4.1" fill="#dc2a14"/><rect x="139.1" y="7.9" width="3" height="3" fill="#fff"/>
<g shape-rendering="crispEdges" fill="#505050"><rect x="222" y="0" width="1" height="14"/><rect x="220" y="11" width="13" height="1"/></g><path d="M232 9.8L234.6 11.5L232 13.2Z" fill="#505050"/><path d="M220.8 2.5L222.5 0L224.2 2.5Z" fill="#505050"/>
<g shape-rendering="crispEdges" fill="#158a15"><rect x="228" y="1" width="1" height="9"/><rect x="229" y="2" width="2" height="1"/><rect x="226" y="8" width="2" height="1"/></g>
<g shape-rendering="crispEdges" fill="#505050"><rect x="250" y="0" width="1" height="14"/><rect x="248" y="11" width="13" height="1"/></g><path d="M260 9.8L262.6 11.5L260 13.2Z" fill="#505050"/><path d="M248.8 2.5L250.5 0L252.2 2.5Z" fill="#505050"/>
<g shape-rendering="crispEdges"><rect x="256" y="7" width="1" height="3" fill="#158a15"/><rect x="254.5" y="-1" width="4" height="8.5" fill="#3fdc3f" stroke="#158a15"/></g>
<g shape-rendering="crispEdges" fill="#505050"><rect x="278" y="0" width="1" height="14"/><rect x="276" y="11" width="13" height="1"/></g><path d="M288 9.8L290.6 11.5L288 13.2Z" fill="#505050"/><path d="M276.8 2.5L278.5 0L280.2 2.5Z" fill="#505050"/>
<path d="M277 9.2C280 7 282 2.6 283.6 3.2S287 6.6 288.8 7.2" fill="none" stroke="#2a962a" stroke-width="1.2"/>
<path d="M318.3 8.2L322.70000000000005 12.2" stroke="#b98f14" stroke-width="3.2" stroke-linecap="round"/><path d="M318.3 8.2L322.5 12" stroke="#ecd04a" stroke-width="1.6" stroke-linecap="round"/><circle cx="314.1" cy="4" r="5.4" fill="#d6ebf9" stroke="#2f7fd0" stroke-width="1.3"/><rect x="311.1" y="3.2" width="6" height="1.7" fill="#2f74b6"/><rect x="313.25" y="1" width="1.7" height="6" fill="#2f74b6"/>
<path d="M346.2 8.2L350.6 12.2" stroke="#b98f14" stroke-width="3.2" stroke-linecap="round"/><path d="M346.2 8.2L350.4 12" stroke="#ecd04a" stroke-width="1.6" stroke-linecap="round"/><circle cx="342" cy="4" r="5.4" fill="#d6ebf9" stroke="#2f7fd0" stroke-width="1.3"/><rect x="339" y="3.2" width="6" height="1.7" fill="#2f74b6"/>
<g shape-rendering="crispEdges"><rect x="364" y="-1" width="8" height="7" fill="#46a61e"/><rect x="372" y="-1" width="8" height="7" fill="#2352d0"/><rect x="364" y="6" width="8" height="8" fill="#2352d0"/><rect x="372" y="6" width="8" height="8" fill="#46a61e"/><rect x="365" y="1" width="6" height="4" fill="#fff"/><rect x="373" y="1" width="6" height="4" fill="#fff"/><rect x="365" y="9" width="6" height="4" fill="#fff"/><rect x="373" y="9" width="6" height="4" fill="#fff"/><rect x="366" y="2" width="4" height="1" fill="#a6d88c"/><rect x="374" y="2" width="4" height="1" fill="#9db4ee"/><rect x="366" y="10" width="4" height="1" fill="#9db4ee"/><rect x="374" y="10" width="4" height="1" fill="#a6d88c"/></g>
<g shape-rendering="crispEdges" fill="#505050"><rect x="402" y="0" width="1" height="14"/><rect x="400" y="11" width="13" height="1"/></g><path d="M412 9.8L414.6 11.5L412 13.2Z" fill="#505050"/><path d="M400.8 2.5L402.5 0L404.2 2.5Z" fill="#505050"/>
<path d="M407.2 2L411.2 5.5L407.2 9Z" fill="#3fdc3f" stroke="#158a15" stroke-width=".8"/>
<g shape-rendering="crispEdges" fill="#505050"><rect x="430" y="0" width="1" height="14"/><rect x="428" y="11" width="13" height="1"/></g><path d="M440 9.8L442.6 11.5L440 13.2Z" fill="#505050"/><path d="M428.8 2.5L430.5 0L432.2 2.5Z" fill="#505050"/>
<rect x="436" y="0" width="1" height="10" fill="#2873b4" shape-rendering="crispEdges"/><path d="M437.5 5.5L440.5 3.2V4.9H442V6.1H440.5V7.8Z" fill="#e04808"/>
<path d="M461.5 -1V10.5H471.5V-1" fill="#fff" stroke="#8a8a8a" stroke-width="1"/><path d="M464 3.5h2M464 6.5h2" stroke="#777" stroke-width=".8"/><path d="M468.9 4h3.8v3.9h3.9v3.8h-3.9v3.9h-3.8v-3.9h-3.9v-3.8h3.9Z" fill="#2fd02f" stroke="#138a13" stroke-width=".9"/>
<path d="M483 5H488.4L485.7 8Z" fill="#000"/>
<path d="M522 5H527.4L524.7 8Z" fill="#000"/>
<path d="M561 5H566.4L563.7 8Z" fill="#000"/>
<path d="M867.2 5H872.6L869.9000000000001 8Z" fill="#000"/>
<defs><linearGradient id="gc" x1="0" y1="0" x2="0" y2="1"><stop offset="0" stop-color="#3f93ee"/><stop offset=".55" stop-color="#1a6ad0"/><stop offset="1" stop-color="#0b3f96"/></linearGradient></defs>
<circle cx="507.2" cy="5.4" r="6.9" fill="#f6fafe" stroke="url(#gc)" stroke-width="2.4"/><path d="M507.2 2V5.8H509.6" fill="none" stroke="#444" stroke-width="1.1"/><g fill="#8a9ab0"><circle cx="503.4" cy="5.6" r=".5"/><circle cx="511" cy="5.6" r=".5"/><circle cx="507.2" cy="9.4" r=".5"/><circle cx="504.5" cy="8.3" r=".4"/><circle cx="509.9" cy="8.3" r=".4"/></g>
<rect x="538.5" y="-1" width="15.5" height="13.3" fill="#fff" stroke="#2f72c4" stroke-width="1.2"/><rect x="539" y="-1" width="14.5" height="2.6" fill="#5a9be4"/><path d="M539 7.2H553.5" stroke="#2f72c4" stroke-width="1"/><path d="M540.5 5.2h2l1.6 -1.4h2l1.2 1h2l1.4 -1.2h1.4" fill="none" stroke="#9c2404" stroke-width="1.2"/><path d="M541 10.6h2l1.4 -1h1.6l2.2 -1.6l2.4 2.4" fill="none" stroke="#1f9a1f" stroke-width="1.2"/>
<path d="M590.3 -1V9.6L592.7 7.4L595.2 13.2L597.2 12.3L594.7 6.7H598.2Z" fill="#595959"/>
<g shape-rendering="crispEdges" fill="#505050"><rect x="622" y="0" width="1" height="14"/><rect x="615" y="6" width="6" height="1"/><rect x="624" y="6" width="6" height="1"/></g>
<g shape-rendering="crispEdges" fill="#484848"><rect x="656" y="0" width="1" height="13"/><rect x="679" y="6" width="12" height="1"/></g>
<path d="M707 13L719 1" stroke="#484848" stroke-width="1.1"/>
<g stroke="#484848" stroke-width="1" fill="none"><path d="M733.5 8.5L745.5 -1M736 12.5L747 4"/><path d="M736 6.5l1.5 5M739 4.2l1.5 5M742 1.8l1.5 5.2" stroke-width="1.3"/></g>
<text x="744" y="14.6" font-size="6.5px" font-weight="bold" fill="#333">E</text>
<g stroke="#555" stroke-width="1" stroke-dasharray="1 1" shape-rendering="crispEdges"><path d="M762 2.5H775M762 6.5H775M762 10.5H771"/></g>
<text x="772" y="14.6" font-size="6.5px" font-weight="bold" fill="#333">F</text>
<text x="792.6" y="10.7" font-size="12.5px" font-weight="bold" fill="#5a5a5a">A</text>
<rect x="819.5" y="-0.5" width="11" height="13" fill="none" stroke="#555" stroke-width="1" stroke-dasharray="1 1" shape-rendering="crispEdges"/>
<text x="821.6" y="10.6" font-size="11px" font-weight="bold" fill="#5a5a5a">T</text>
<path d="M849.4 -1.2L852.8 2.2L849.4 5.2L846.2 2.2Z" fill="#555"/><path d="M856.2 7.2L859.7 10.2L856.2 13.2L852.8 10.2Z" fill="#555"/><path d="M848.5 7.6L850.6 9.6L854.4 4.4" fill="none" stroke="#555" stroke-width="1.4"/>
<g font-size="9.7px" fill="#444" text-anchor="middle">
<text x="900" y="9.6">M1</text>
<text x="928" y="9.6">M5</text>
<text x="956" y="9.6">M15</text>
<text x="984.3" y="9.6">M30</text>
<text x="1012" y="9.6">H1</text>
<text x="1040" y="9.6">H4</text>
<text x="1068.5" y="9.6">D1</text>
<text x="1097.5" y="9.6">W1</text>
<text x="1124.3" y="9.6">MN</text>
</g>
<path d="M1607.4 5.6L1602 11" stroke="#2a62d6" stroke-width="2.2" stroke-linecap="round"/><circle cx="1609.8" cy="3.2" r="3.6" fill="#fff" stroke="#2a62d6" stroke-width="1.3"/>
<path d="M1626.5 8.2c0 -6 11 -6 11 0c0 3 -4 4 -6.5 3.8l-2.2 2.4l0.2 -2.8c-1.6 -.6 -2.5 -1.8 -2.5 -3.4Z" fill="#e8ecf2" stroke="#b4bac4" stroke-width=".9"/>
<circle cx="1640.6" cy="3.4" r="8" fill="#d9381e"/><text x="1637.5" y="8" font-size="11px" fill="#fff">1</text>
</g>
</svg>

</body></html>
